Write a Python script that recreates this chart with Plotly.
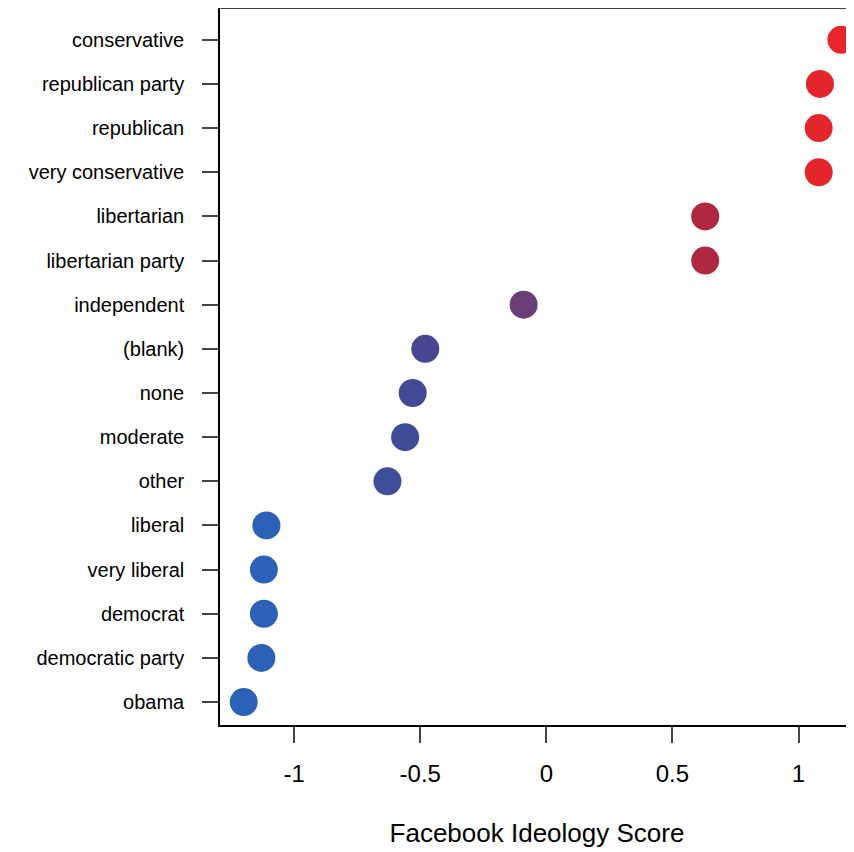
import plotly.graph_objects as go

labels = ["obama", "democratic party", "democrat", "very liberal", "liberal", "other",
          "moderate", "none", "(blank)", "independent", "libertarian party", "libertarian",
          "very conservative", "republican", "republican party", "conservative"]
scores = [-1.20, -1.13, -1.12, -1.12, -1.11, -0.63, -0.56, -0.53, -0.48, -0.09,
          0.63, 0.63, 1.08, 1.08, 1.085, 1.17]
colors = ["#2b62b6", "#2c62b6", "#2c62b6", "#2c62b6", "#2c62b6", "#3d4f9a",
          "#404c98", "#434a95", "#484690", "#6a3f78", "#b0283f", "#b0283f",
          "#e3262b", "#e3262b", "#e3262b", "#e8262a"]

fig = go.Figure(go.Scatter(
    x=scores, y=list(range(len(labels))), mode="markers",
    marker=dict(size=28, color=colors, line=dict(width=0)),
    cliponaxis=False))

fig.update_layout(
    width=846, height=844, plot_bgcolor="white", paper_bgcolor="white",
    margin=dict(l=212, r=0, t=0, b=127), showlegend=False,
    font=dict(family="Liberation Sans, Arial", size=20, color="black"),
    xaxis=dict(range=[-1.294, 1.22], tickvals=[-1, -0.5, 0, 0.5, 1],
               ticktext=["-1", "-0.5", "0", "0.5", "1"], ticks="outside", ticklen=16,
               tickwidth=1.5, showgrid=False, zeroline=False, showline=True,
               linecolor="black", linewidth=1.5, tickfont=dict(size=24),
               ticklabelstandoff=10,
               title=dict(text="Facebook Ideology Score", font=dict(size=26), standoff=38)),
    yaxis=dict(range=[-0.52, 15.72], tickvals=list(range(len(labels))), ticktext=labels,
               ticks="outside", ticklen=16, tickwidth=1.5, showgrid=False, zeroline=False,
               showline=True, linecolor="black", linewidth=1.5, ticklabelstandoff=14),
)
fig.add_shape(type="line", xref="paper", yref="paper", x0=0, x1=1, y0=1, y1=1,
              line=dict(color="black", width=1.5))
fig.write_html("out.html")
